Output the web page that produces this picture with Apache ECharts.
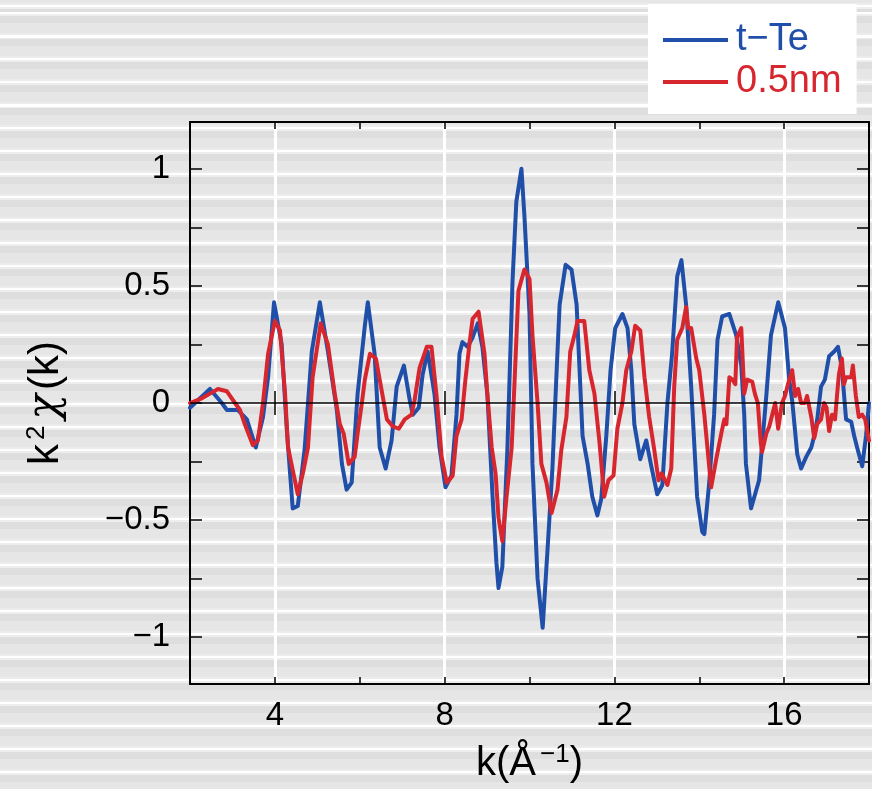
<!DOCTYPE html>
<html>
<head>
<meta charset="utf-8">
<script src="https://cdn.jsdelivr.net/npm/echarts@6/dist/echarts.min.js"></script>
<style>
  html, body { margin: 0; padding: 0; }
  body {
    width: 872px; height: 789px; overflow: hidden;
    background-color: #e6e6e6;
    background-image: repeating-linear-gradient(to bottom,
      #ffffff 0px, #ffffff 2.5px,
      #eeeeee 2.5px, #eeeeee 4px,
      #dedede 4px, #dedede 11px,
      #e6e6e6 11px, #e6e6e6 21px,
      #ececec 21px, #ececec 23px);
    background-position: 0 12px;
  }
  #chart { width: 872px; height: 789px; }
</style>
</head>
<body>
<div id="chart"></div>
<script>
// t-Te 曲线
const blueK = [2.0, 2.47, 2.75, 2.87, 3.13, 3.34, 3.55, 3.72, 3.84, 3.98, 4.16, 4.28, 4.42, 4.54, 4.7, 4.87, 5.06, 5.25, 5.46, 5.58, 5.69, 5.81, 5.95, 6.12, 6.19, 6.35, 6.47, 6.61, 6.75, 6.87, 7.04, 7.18, 7.25, 7.39, 7.48, 7.6, 7.76, 7.88, 8.02, 8.16, 8.28, 8.35, 8.42, 8.54, 8.66, 8.78, 8.89, 9.01, 9.13, 9.22, 9.27, 9.36, 9.48, 9.6, 9.69, 9.81, 9.88, 10.0, 10.07, 10.19, 10.31, 10.42, 10.54, 10.64, 10.71, 10.85, 10.99, 11.11, 11.18, 11.25, 11.37, 11.48, 11.6, 11.69, 11.81, 11.91, 12.02, 12.19, 12.31, 12.4, 12.47, 12.61, 12.75, 12.87, 13.01, 13.13, 13.25, 13.36, 13.48, 13.58, 13.69, 13.81, 13.95, 14.07, 14.12, 14.24, 14.35, 14.43, 14.54, 14.71, 14.87, 14.99, 15.06, 15.1, 15.22, 15.41, 15.58, 15.69, 15.86, 16.02, 16.12, 16.19, 16.31, 16.4, 16.52, 16.64, 16.71, 16.78, 16.87, 16.96, 17.06, 17.18, 17.27, 17.36, 17.46, 17.58, 17.65, 17.72, 17.84, 17.93, 18.0];
const blueV = [-0.02, 0.06, 0.0, -0.03, -0.03, -0.07, -0.19, -0.06, 0.11, 0.43, 0.25, -0.11, -0.45, -0.44, -0.2, 0.22, 0.43, 0.22, -0.03, -0.26, -0.37, -0.34, 0.04, 0.33, 0.43, 0.21, -0.19, -0.28, -0.16, 0.07, 0.16, 0.01, -0.05, -0.02, 0.12, 0.22, 0.04, -0.19, -0.36, -0.31, -0.05, 0.21, 0.26, 0.24, 0.28, 0.34, 0.24, 0.03, -0.4, -0.68, -0.79, -0.7, -0.19, 0.52, 0.86, 1.0, 0.8, 0.38, -0.26, -0.75, -0.96, -0.64, -0.28, 0.14, 0.42, 0.59, 0.57, 0.42, 0.14, -0.14, -0.26, -0.4, -0.48, -0.41, -0.14, 0.14, 0.32, 0.38, 0.32, 0.14, -0.09, -0.24, -0.16, -0.27, -0.39, -0.35, 0.0, 0.21, 0.54, 0.61, 0.42, 0.07, -0.4, -0.55, -0.56, -0.33, -0.05, 0.27, 0.37, 0.38, 0.29, 0.16, -0.05, -0.26, -0.45, -0.33, 0.03, 0.29, 0.43, 0.32, 0.1, 0.01, -0.22, -0.28, -0.23, -0.19, -0.14, -0.07, 0.07, 0.1, 0.2, 0.22, 0.24, 0.15, -0.07, -0.08, -0.14, -0.19, -0.27, -0.14, 0.0];

// 0.5nm 曲线
const redK = [2.0, 2.28, 2.47, 2.66, 2.87, 3.06, 3.18, 3.29, 3.48, 3.6, 3.72, 3.84, 4.0, 4.12, 4.24, 4.31, 4.54, 4.66, 4.78, 4.89, 5.08, 5.25, 5.41, 5.53, 5.62, 5.74, 5.88, 5.95, 6.05, 6.12, 6.24, 6.38, 6.52, 6.64, 6.78, 6.92, 7.06, 7.22, 7.29, 7.41, 7.58, 7.69, 7.81, 7.93, 8.05, 8.19, 8.28, 8.4, 8.49, 8.59, 8.66, 8.8, 8.94, 9.01, 9.11, 9.2, 9.27, 9.36, 9.46, 9.58, 9.65, 9.74, 9.88, 10.0, 10.07, 10.19, 10.28, 10.4, 10.52, 10.66, 10.75, 10.87, 10.96, 11.06, 11.13, 11.29, 11.41, 11.53, 11.65, 11.76, 11.86, 11.98, 12.07, 12.19, 12.28, 12.4, 12.49, 12.61, 12.71, 12.82, 12.94, 13.04, 13.11, 13.25, 13.34, 13.41, 13.48, 13.6, 13.69, 13.74, 13.81, 13.93, 14.0, 14.12, 14.28, 14.4, 14.52, 14.59, 14.64, 14.71, 14.78, 14.85, 14.89, 14.99, 15.06, 15.13, 15.25, 15.31, 15.38, 15.45, 15.48, 15.58, 15.65, 15.72, 15.79, 15.86, 15.95, 16.02, 16.09, 16.19, 16.26, 16.33, 16.4, 16.49, 16.54, 16.64, 16.71, 16.78, 16.87, 16.94, 17.0, 17.06, 17.13, 17.2, 17.25, 17.29, 17.36, 17.41, 17.46, 17.58, 17.62, 17.69, 17.76, 17.84, 17.91, 18.0];
const redV = [0.0, 0.02, 0.04, 0.06, 0.05, 0.0, -0.03, -0.09, -0.18, -0.16, 0.0, 0.21, 0.35, 0.31, 0.04, -0.19, -0.39, -0.3, -0.19, 0.11, 0.34, 0.25, 0.04, -0.09, -0.13, -0.26, -0.23, -0.13, 0.0, 0.1, 0.21, 0.19, 0.05, -0.07, -0.1, -0.11, -0.07, -0.05, 0.01, 0.15, 0.24, 0.24, 0.03, -0.23, -0.34, -0.31, -0.14, -0.07, 0.1, 0.26, 0.36, 0.39, 0.21, 0.03, -0.19, -0.3, -0.49, -0.59, -0.4, -0.19, 0.1, 0.48, 0.57, 0.53, 0.29, 0.0, -0.26, -0.34, -0.47, -0.37, -0.2, -0.06, 0.22, 0.29, 0.35, 0.35, 0.14, 0.04, -0.17, -0.4, -0.33, -0.31, -0.11, 0.0, 0.14, 0.22, 0.33, 0.31, 0.11, -0.06, -0.2, -0.33, -0.3, -0.35, -0.28, 0.07, 0.27, 0.32, 0.41, 0.32, 0.32, 0.19, 0.14, -0.05, -0.36, -0.24, -0.13, -0.07, -0.09, 0.11, 0.1, 0.08, 0.28, 0.32, 0.04, 0.1, 0.09, 0.04, 0.0, -0.17, -0.21, -0.13, -0.1, -0.05, 0.0, -0.11, 0.0, 0.03, 0.08, 0.14, 0.03, 0.06, 0.0, 0.0, 0.03, -0.06, -0.15, -0.09, -0.07, 0.0, -0.02, -0.12, -0.05, -0.07, 0.04, 0.12, 0.19, 0.08, 0.11, 0.11, 0.16, 0.03, -0.06, -0.05, -0.07, -0.16];

// 刻度
const xLabelTicks = [4, 8, 12, 16];
const yTicks = [-1, -0.75, -0.5, -0.25, 0, 0.25, 0.5, 0.75, 1];
const yLabelTicks = [-1, -0.5, 0, 0.5, 1];

const BLUE = '#1f4fa8';
const RED = '#d8262f';
const numFont = "'Liberation Sans Narrow', 'Liberation Sans', sans-serif";
const textFont = "'Liberation Sans', Arial, sans-serif";

const zip = (ks, vs) => ks.map((k, i) => [k, vs[i]]);

const chart = echarts.init(document.getElementById('chart'));

const baseX = {
  type: 'value', min: 2, max: 18, interval: 2,
  axisLine: { show: false },
  axisLabel: { show: false },
  splitLine: { show: false },
  axisTick: { show: true, inside: true, length: 7, lineStyle: { color: '#000', width: 1.5 } }
};

const option = {
  backgroundColor: 'transparent',
  animation: false,
  grid: { left: 190, top: 122, width: 680, height: 568, containLabel: false },
  legend: {
    orient: 'vertical',
    left: 648, top: 4,
    backgroundColor: '#fff',
    padding: [17, 15, 13, 15],
    itemGap: 4,
    itemWidth: 65, itemHeight: 4,
    icon: 'rect',
    textStyle: { fontFamily: textFont, fontSize: 38, lineHeight: 38, padding: [0, 0, 0, 3] },
    data: [
      { name: 't−Te', textStyle: { color: BLUE } },
      { name: '0.5nm', textStyle: { color: RED } }
    ]
  },
  xAxis: [
    {
      ...baseX,
      position: 'bottom',
      axisLine: { show: true, onZero: false, lineStyle: { color: '#000', width: 2 } },
      axisLabel: {
        show: true, margin: 15, fontFamily: numFont, fontSize: 33, color: '#000',
        formatter: v => (xLabelTicks.includes(v) ? String(v) : '')
      },
      splitLine: { show: true, lineStyle: { color: ['rgba(0,0,0,0)', '#ffffff'], width: 3 } },
      name: 'k(Å{sup|−1})',
      nameLocation: 'middle',
      nameGap: 58,
      nameTextStyle: {
        fontFamily: textFont, fontSize: 40, color: '#000',
        rich: { sup: { fontFamily: textFont, fontSize: 26, verticalAlign: 'top', padding: [0, 0, 18, 4] } }
      }
    },
    {
      ...baseX, position: 'bottom',
      axisTick: { show: true, inside: true, length: 12, customValues: xLabelTicks, lineStyle: { color: '#000', width: 1.5 } }
    },
    {
      ...baseX, position: 'top',
      axisLine: { show: true, onZero: false, lineStyle: { color: '#000', width: 2 } }
    },
    {
      ...baseX, position: 'top',
      axisTick: { show: true, inside: true, length: 12, customValues: xLabelTicks, lineStyle: { color: '#000', width: 1.5 } }
    }
  ],
  yAxis: [
    {
      type: 'value', min: -1.2, max: 1.2, position: 'left',
      axisLine: { show: true, onZero: false, lineStyle: { color: '#000', width: 2 } },
      axisTick: { show: true, inside: true, length: 12, customValues: yTicks, lineStyle: { color: '#000', width: 1.5 } },
      axisLabel: {
        show: true, margin: 20, customValues: yLabelTicks,
        fontFamily: numFont, fontSize: 33, color: '#000',
        formatter: v => (v < 0 ? '−' + Math.abs(v) : String(v))
      },
      splitLine: { show: false },
      name: 'k{sup|2}{chi|χ}(k)',
      nameLocation: 'middle',
      nameRotate: 90,
      nameGap: 122,
      nameTextStyle: {
        fontFamily: textFont, fontSize: 42, color: '#000',
        rich: {
          sup: { fontFamily: textFont, fontSize: 26, verticalAlign: 'top', padding: [0, 6, 18, 4] },
          chi: { fontFamily: "'DejaVu Serif', serif", fontStyle: 'italic', fontSize: 42, padding: [0, 4, 0, 0] }
        }
      }
    },
    {
      type: 'value', min: -1.2, max: 1.2, position: 'right',
      axisLine: { show: true, onZero: false, lineStyle: { color: '#000', width: 2 } },
      axisTick: { show: true, inside: true, length: 12, customValues: yTicks, lineStyle: { color: '#000', width: 1.5 } },
      axisLabel: { show: false },
      splitLine: { show: false }
    }
  ],
  series: [
    {
      name: 't−Te',
      type: 'line',
      xAxisIndex: 0, yAxisIndex: 0,
      showSymbol: false,
      symbol: 'none',
      clip: true,
      itemStyle: { color: BLUE },
      lineStyle: { color: BLUE, width: 4, join: 'round', cap: 'round' },
      data: zip(blueK, blueV)
    },
    {
      name: '0.5nm',
      type: 'line',
      xAxisIndex: 0, yAxisIndex: 0,
      showSymbol: false,
      symbol: 'none',
      clip: true,
      itemStyle: { color: RED },
      lineStyle: { color: RED, width: 4, join: 'round', cap: 'round' },
      data: zip(redK, redV),
      markLine: {
        silent: true,
        symbol: ['none', 'none'],
        label: { show: false },
        lineStyle: { color: '#000', width: 1.5, type: 'solid' },
        data: [{ yAxis: 0 }]
      }
    }
  ]
};

chart.setOption(option);
</script>
</body>
</html>
